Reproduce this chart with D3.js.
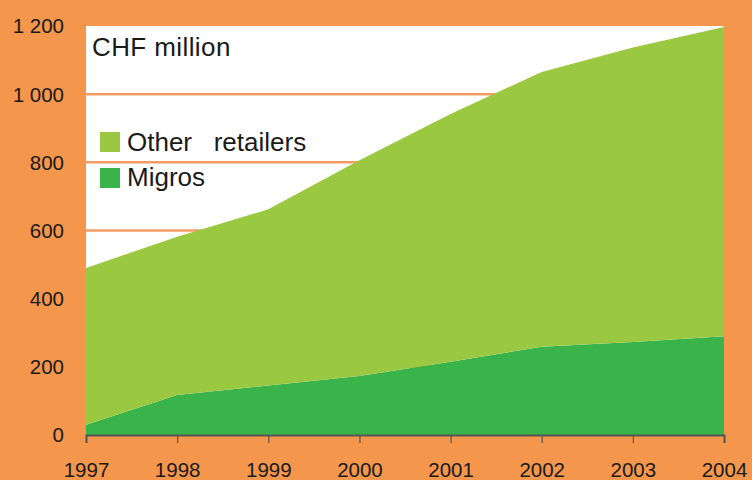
<!DOCTYPE html>
<html><head><meta charset="utf-8">
<script src="https://cdn.jsdelivr.net/npm/d3@7"></script>
<style>
html,body{margin:0;padding:0;background:#F4964C;}
svg{display:block;}
text{font-family:"Liberation Sans",Arial,Helvetica,sans-serif;fill:#1a1a1a;}
</style></head>
<body>
<svg id="chart" width="752" height="480"></svg>
<script>
const years = [1997, 1998, 1999, 2000, 2001, 2002, 2003, 2004];
const migros = [30, 117, 145, 173, 215, 259, 273, 290];
const total = [490, 582, 662, 806, 942, 1065, 1137, 1197];
const otherRetailers = total.map((t, i) => t - migros[i]);
const yTicks = [0, 200, 400, 600, 800, 1000, 1200];
const seriesNames = ["Other   retailers", "Migros"];
const seriesColors = ["#9BC841", "#3AB34A"];

(function () {
const svg = d3.select("#chart");
const mLeft = 86, mRight = 724, mTop = 26, mBottom = 435;

const x = d3.scaleLinear().domain([1997, 2004]).range([mLeft, mRight]);
const y = d3.scaleLinear().domain([0, 1200]).range([mBottom, mTop]);

// background
svg.append("rect").attr("width", 752).attr("height", 480).attr("fill", "#F4964C");
svg.append("rect").attr("x", mLeft).attr("y", mTop).attr("width", mRight - mLeft).attr("height", mBottom - mTop).attr("fill", "#FFFFFF");

// gridlines
svg.append("g").selectAll("line").data(yTicks.filter(d => d > 0 && d < 1200)).join("line")
  .attr("x1", mLeft).attr("x2", mRight)
  .attr("y1", d => y(d)).attr("y2", d => y(d))
  .attr("stroke", "#F39C62").attr("stroke-width", 2.5);

// stacked areas
const data = years.map((yr, i) => ({year: yr, migros: migros[i], other: otherRetailers[i]}));
const stack = d3.stack().keys(["migros", "other"]);
const layers = stack(data);
const area = d3.area().x(d => x(d.data.year)).y0(d => y(d[0])).y1(d => y(d[1]));
const colorByKey = {other: seriesColors[0], migros: seriesColors[1]};
svg.append("g").selectAll("path").data(layers).join("path")
  .attr("d", area).attr("fill", d => colorByKey[d.key]);

// x axis
const xAxis = d3.axisBottom(x).tickValues(years).tickFormat(d3.format("d")).tickSize(8).tickPadding(19);
const gx = svg.append("g").attr("transform", `translate(0,${mBottom})`).call(xAxis);
gx.select(".domain").attr("stroke", "#555").attr("stroke-width", 2);
gx.selectAll(".tick line").attr("stroke", "#555").attr("stroke-width", 1.2);
gx.selectAll(".tick text").attr("font-size", 20.5).attr("fill", "#1a1a1a")
  .style("font-family", '"Liberation Sans",Arial,sans-serif');

// y axis labels
const fmt = d => d >= 1000 ? Math.floor(d / 1000) + " " + String(d % 1000).padStart(3, "0") : String(d);
svg.append("g").selectAll("text").data(yTicks).join("text")
  .attr("x", 64).attr("y", d => y(d)).attr("dy", "0.36em")
  .attr("text-anchor", "end").attr("font-size", 20.5).text(fmt);

// title
svg.append("text").attr("x", 92).attr("y", 56).attr("font-size", 26).attr("letter-spacing", 0.4).text("CHF million");

// legend
const legendKeys = ["other", "migros"];
const lg = svg.append("g");
legendKeys.forEach((k, i) => {
  lg.append("rect").attr("x", 100).attr("y", 132 + i * 36).attr("width", 20).attr("height", 20)
    .attr("fill", colorByKey[k]);
  lg.append("text").attr("x", 127).attr("y", 151 + i * 35).attr("font-size", 26)
    .style("white-space", "pre").text(seriesNames[i]);
});
})();
</script>
</body></html>
